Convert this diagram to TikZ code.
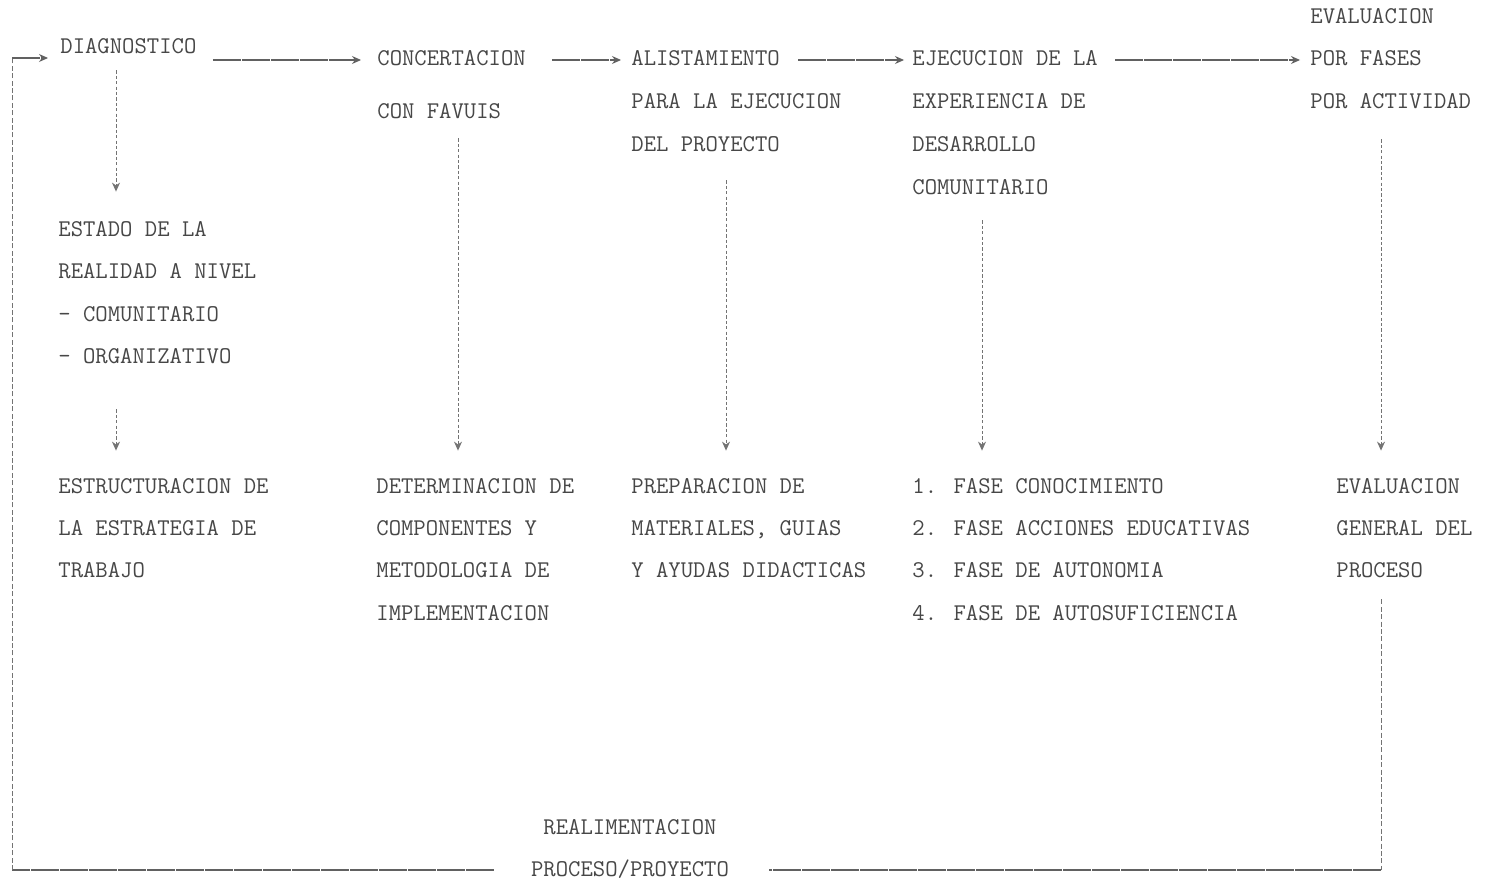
\documentclass[tikz,border=0pt]{standalone}
\usetikzlibrary{arrows.meta,calc}
\begin{document}
\begin{tikzpicture}[x=0.5pt,y=-0.5pt,
  txt/.style={anchor=west,inner sep=3pt,text height=8pt,text depth=2pt,text=black!72,
              font=\ttfamily\fontsize{12}{14}\selectfont},
  ctxt/.style={txt,anchor=center},
  tip/.style={-{Stealth[length=4.5pt,width=4pt]}},
  hconn/.style={draw=black!62,line width=0.55pt,dash pattern=on 14pt off 0.5pt,tip},
  vconn/.style={draw=black!55,line width=0.45pt,dash pattern=on 1.6pt off 1.1pt,tip},
  fbline/.style={draw=black!62,line width=0.55pt,dash pattern=on 14pt off 0.5pt},
  fbvert/.style={draw=black!55,line width=0.45pt,dash pattern=on 2.5pt off 1.2pt}]
\useasboundingbox[fill=white] (0,0) rectangle (1488,883);

% top row
\node[txt] (diag)  at (54,48)  {DIAGNOSTICO};
\node[txt] (conc1) at (371,60) {CONCERTACION};
\node[txt] (conc2) at (371,113) {CON FAVUIS};
\node[txt] (alis1) at (625,60) {ALISTAMIENTO};
\node[txt] (alis2) at (625,103) {PARA LA EJECUCION};
\node[txt] (alis3) at (625,145) {DEL PROYECTO};
\node[txt] (ejec1) at (906,60) {EJECUCION DE LA};
\node[txt] (ejec2) at (906,103) {EXPERIENCIA DE};
\node[txt] (ejec3) at (906,145) {DESARROLLO};
\node[txt] (ejec4) at (906,188) {COMUNITARIO};
\node[txt] (ev1)   at (1304,18) {EVALUACION};
\node[txt] (ev2)   at (1304,60) {POR FASES};
\node[txt] (ev3)   at (1304,103) {POR ACTIVIDAD};

% middle
\node[txt] (est1) at (52,230) {ESTADO DE LA};
\node[txt] (est2) at (52,272) {REALIDAD A NIVEL};
\node[txt] (est3) at (52,315) {- COMUNITARIO};
\node[txt] (est4) at (52,357) {- ORGANIZATIVO};

% bottom row
\node[txt] (str1) at (52,487) {ESTRUCTURACION DE};
\node[txt] (str2) at (52,529) {LA ESTRATEGIA DE};
\node[txt] (str3) at (52,571) {TRABAJO};
\node[txt] (det1) at (370,487) {DETERMINACION DE};
\node[txt] (det2) at (370,529) {COMPONENTES Y};
\node[txt] (det3) at (370,571) {METODOLOGIA DE};
\node[txt] (det4) at (370,614) {IMPLEMENTACION};
\node[txt] (prep1) at (625,487) {PREPARACION DE};
\node[txt] (prep2) at (625,529) {MATERIALES, GUIAS};
\node[txt] (prep3) at (625,571) {Y AYUDAS DIDACTICAS};
\node[txt] (fase1) at (906,487) {1. FASE CONOCIMIENTO};
\node[txt] (fase2) at (906,529) {2. FASE ACCIONES EDUCATIVAS};
\node[txt] (fase3) at (906,571) {3. FASE DE AUTONOMIA};
\node[txt] (fase4) at (906,614) {4. FASE DE AUTOSUFICIENCIA};
\node[txt] (evg1) at (1330,487) {EVALUACION};
\node[txt] (evg2) at (1330,529) {GENERAL DEL};
\node[txt] (evg3) at (1330,571) {PROCESO};

% feedback label
\node[ctxt] (re1) at (630,828) {REALIMENTACION};
\node[ctxt] (re2) at (630,870) {PROCESO/PROYECTO};

% horizontal arrows
\draw[hconn,shorten <=5pt,shorten >=5pt] (diag.east |- conc1.west) -- (conc1.west);
\draw[hconn,shorten <=10pt,shorten >=2pt] (conc1.east) -- (alis1.west);
\draw[hconn,shorten <=6pt,shorten >=1pt] (alis1.east) -- (ejec1.west);
\draw[hconn,shorten <=5.5pt,shorten >=2pt] (ejec1.east) -- (ev2.west);

% vertical arrows
\coordinate (v1) at ($(diag.south west)+(62,0)$);
\draw[vconn,shorten <=3pt,shorten >=11pt] (v1) -- (v1 |- est1.north);
\coordinate (v1b) at ($(est4.south west)+(64,0)$);
\draw[vconn,shorten <=18pt,shorten >=10pt] (v1b) -- (v1b |- str1.north);
\coordinate (v2) at ($(conc2.south west)+(87,0)$);
\draw[vconn,shorten <=4.5pt,shorten >=10pt] (v2) -- (v2 |- det1.north);
\coordinate (v3) at ($(alis3.south west)+(101,0)$);
\draw[vconn,shorten <=9.5pt,shorten >=10pt] (v3) -- (v3 |- prep1.north);
\coordinate (v4) at ($(ejec4.south west)+(76,0)$);
\draw[vconn,shorten <=8pt,shorten >=10pt] (v4) -- (v4 |- fase1.north);
\coordinate (v5) at ($(ev3.south west)+(77,0)$);
\draw[vconn,shorten <=10pt,shorten >=10pt] (v5) -- (v5 |- evg1.north);

% feedback loop
\coordinate (fb) at ($(evg3.south west)+(51,0)$);
\draw[fbvert,shorten <=6pt] (fb) -- (fb |- re2);
\draw[fbline,shorten >=17pt] (fb |- re2) -- (re2.east);
\coordinate (loop) at ($(diag.west)+(-42,10)$);
\draw[fbline,shorten <=15.5pt] (re2.west) -- (re2.west -| loop);
\draw[fbvert] (re2.west -| loop) -- (loop);
\draw[fbline,tip,shorten >=3pt] (loop) -- ($(diag.west)+(0,10)$);
\end{tikzpicture}
\end{document}
